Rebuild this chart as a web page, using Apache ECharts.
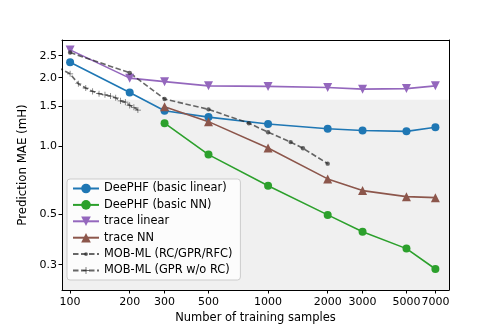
<!DOCTYPE html>
<html>
<head>
<meta charset="utf-8">
<script src="https://cdn.jsdelivr.net/npm/echarts@6/dist/echarts.min.js"></script>
<style>
  html, body { margin: 0; padding: 0; background: #fff; }
  #chart { width: 498px; height: 332px; }
</style>
</head>
<body>
<div id="chart"></div>
<script>
// training set sizes
const samples = [100, 200, 300, 500, 1000, 2000, 3000, 5000, 7000]
const samplesNN = [300, 500, 1000, 2000, 3000, 5000, 7000]
const mobRcSamples = [100, 200, 300, 500, 800, 1000, 1300, 1500, 2000]
const mobNoRcSamples = [80, 100, 110, 120, 130, 140, 150, 160, 170, 180, 190, 200, 210, 220]

// MAE values (mH)
const deephfLinear = [2.34, 1.72, 1.43, 1.34, 1.25, 1.19, 1.17, 1.16, 1.21]
const deephfNN = [1.26, 0.916, 0.668, 0.497, 0.419, 0.353, 0.287]
const traceLinear = [2.65, 1.99, 1.92, 1.84, 1.83, 1.81, 1.78, 1.79, 1.84]
const traceNN = [1.49, 1.28, 0.98, 0.716, 0.636, 0.598, 0.592]
const mobRc = [2.58, 2.10, 1.61, 1.45, 1.26, 1.15, 1.04, 0.977, 0.836]
const mobNoRc = [2.3, 2.08, 1.88, 1.80, 1.74, 1.70, 1.68, 1.66, 1.63, 1.58, 1.56, 1.51, 1.48, 1.44]

const xTicks = [100, 200, 300, 500, 1000, 2000, 3000, 5000, 7000]
const yTicks = [0.3, 0.5, 1.0, 1.5, 2.0, 2.5]
const shadeTop = 1.6

const xMin = 91, xMax = 8200
const yMin = 0.232, yMax = 2.93

const zip = (xs, ys) => xs.map((x, i) => [x, ys[i]])
// small symbols padded inside a bigger box so the legend icon stays small too
const dot = "path://M0,0M10,10M3,5A2,2,0,1,1,7,5A2,2,0,1,1,3,5Z"
const plus = "path://M0,0M14,14M6.4,2H7.6V6.4H12V7.6H7.6V12H6.4V7.6H2V6.4H6.4Z"
const font = "DejaVu Sans"
const black = "#000"

let chart = echarts.init(document.getElementById("chart"))

// plain frame axis for the top / right spines
const frame = (type, position, min, max) => ({
  type: type,
  position: position,
  min: min,
  max: max,
  z: 5,
  axisLine: { show: true, onZero: false, lineStyle: { color: black } },
  axisTick: { show: false },
  axisLabel: { show: false },
  splitLine: { show: false },
  minorTick: { show: false }
})

chart.setOption({
  animation: false,
  textStyle: { fontFamily: font },
  grid: {
    left: 62,
    right: 49,
    top: 40,
    bottom: 42
  },
  legend: {
    data: ["DeePHF (basic linear)", "DeePHF (basic NN)", "trace linear", "trace NN",
      "MOB-ML (RC/GPR/RFC)", "MOB-ML (GPR w/o RC)"],
    orient: "vertical",
    left: 67,
    top: 179,
    itemWidth: 26,
    itemHeight: 12,
    itemGap: 5.4,
    padding: [4, 8, 4, 5],
    backgroundColor: "rgba(255,255,255,0.8)",
    borderColor: "#ccc",
    borderWidth: 1,
    borderRadius: 3,
    textStyle: { fontSize: 11.4, color: black, fontFamily: font }
  },
  xAxis: [
    {
      type: "log",
      logBase: 10,
      min: xMin,
      max: xMax,
      z: 5,
      name: "Number of training samples",
      nameLocation: "middle",
      nameGap: 13,
      nameTextStyle: { fontSize: 11.5, color: black, fontFamily: font },
      axisLine: { onZero: false, lineStyle: { color: black } },
      axisTick: { customValues: xTicks, length: 3.5, lineStyle: { color: black } },
      axisLabel: {
        customValues: xTicks,
        fontSize: 11,
        color: black,
        margin: 6.5,
        formatter: v => String(Math.round(v))
      },
      minorTick: { show: false },
      splitLine: { show: false }
    },
    frame("log", "top", xMin, xMax)
  ],
  yAxis: [
    {
      type: "log",
      logBase: 10,
      min: yMin,
      max: yMax,
      z: 5,
      name: "Prediction MAE (mH)",
      nameLocation: "middle",
      nameGap: 29,
      nameTextStyle: { fontSize: 11.8, color: black, fontFamily: font },
      axisLine: { show: true, onZero: false, lineStyle: { color: black } },
      axisTick: { show: true, customValues: yTicks, length: 3.5, lineStyle: { color: black } },
      axisLabel: {
        customValues: yTicks,
        fontSize: 11,
        color: black,
        margin: 5,
        formatter: v => v.toFixed(1)
      },
      minorTick: { show: false },
      splitLine: { show: false }
    },
    frame("log", "right", yMin, yMax)
  ],
  series: [
    {
      name: "shade",
      type: "line",
      data: [],
      silent: true,
      z: 1,
      markArea: {
        silent: true,
        itemStyle: { color: "#f0f0f0" },
        data: [[{ yAxis: yMin }, { yAxis: shadeTop }]]
      }
    },
    {
      name: "DeePHF (basic linear)",
      type: "line",
      z: 3,
      data: zip(samples, deephfLinear),
      symbol: "circle",
      symbolSize: 8,
      color: "#1f77b4",
      lineStyle: { width: 1.6 }
    },
    {
      name: "DeePHF (basic NN)",
      type: "line",
      z: 3,
      data: zip(samplesNN, deephfNN),
      symbol: "circle",
      symbolSize: 8,
      color: "#2ca02c",
      lineStyle: { width: 1.6 }
    },
    {
      name: "trace linear",
      type: "line",
      z: 3,
      data: zip(samples, traceLinear),
      symbol: "triangle",
      symbolRotate: 180,
      symbolSize: 9,
      color: "#9467bd",
      lineStyle: { width: 1.6 }
    },
    {
      name: "trace NN",
      type: "line",
      z: 3,
      data: zip(samplesNN, traceNN),
      symbol: "triangle",
      symbolSize: 9,
      color: "#8c564b",
      lineStyle: { width: 1.6 }
    },
    {
      name: "MOB-ML (RC/GPR/RFC)",
      type: "line",
      z: 3,
      data: zip(mobRcSamples, mobRc),
      symbol: dot,
      symbolSize: 11,
      color: "rgba(40,40,40,0.7)",
      lineStyle: { width: 1.6, type: [5.5, 2.5] }
    },
    {
      name: "MOB-ML (GPR w/o RC)",
      type: "line",
      z: 3,
      data: zip(mobNoRcSamples, mobNoRc),
      symbol: plus,
      symbolSize: 8.5,
      color: "rgba(40,40,40,0.7)",
      lineStyle: { width: 1.6, type: [5.5, 2.5] }
    }
  ]
})
</script>
</body>
</html>
